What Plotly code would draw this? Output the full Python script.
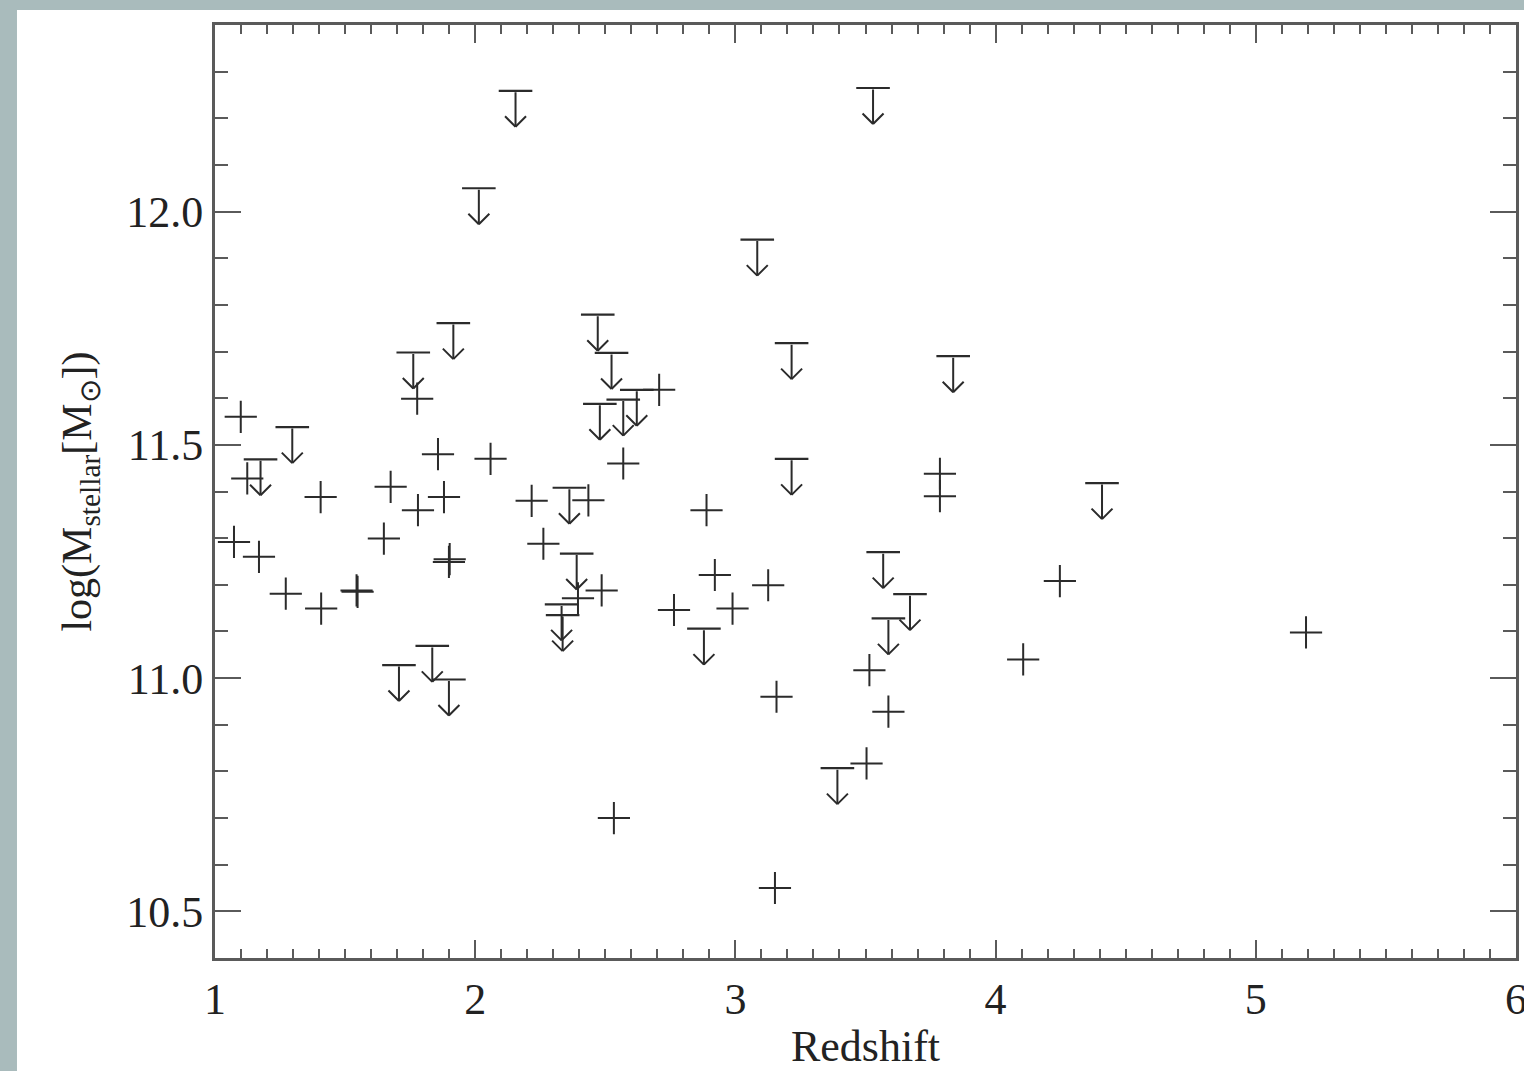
import plotly.graph_objects as go

# Detected sources: redshift and log stellar mass
det_z = [1.099, 1.124, 1.073, 1.169, 1.272, 1.408, 1.406, 1.544, 1.548, 1.649,
         1.675, 1.777, 1.780, 1.857, 1.880, 1.899, 1.902, 2.059, 2.217, 2.262,
         2.395, 2.435, 2.486, 2.533, 2.569, 2.707, 2.764, 2.889, 2.921, 2.989,
         3.126, 3.158, 3.152, 3.504, 3.515, 3.588, 3.786, 3.786, 4.106, 4.247,
         5.193]
det_mass = [11.560, 11.428, 11.292, 11.260, 11.181, 11.149, 11.388, 11.188, 11.185, 11.299,
            11.410, 11.599, 11.360, 11.480, 11.388, 11.249, 11.255, 11.470, 11.380, 11.288,
            11.171, 11.381, 11.188, 10.700, 11.460, 11.618, 11.146, 11.360, 11.221, 11.149,
            11.199, 10.960, 10.550, 10.817, 11.017, 10.928, 11.438, 11.390, 11.040, 11.208,
            11.098]

# Upper limits on stellar mass
lim_z = [2.155, 3.529, 2.014, 3.084, 3.216, 3.837, 3.216, 1.916, 1.762, 2.471,
         2.524, 2.479, 2.569, 2.621, 2.362, 2.390, 2.332, 2.336, 1.297, 1.175,
         1.707, 1.835, 1.899, 2.879, 3.568, 3.671, 3.588, 3.392, 4.409]
lim_mass = [12.259, 12.265, 12.050, 11.940, 11.718, 11.690, 11.470, 11.761, 11.698, 11.779,
            11.697, 11.588, 11.597, 11.618, 11.408, 11.267, 11.158, 11.135, 11.538, 11.469,
            11.028, 11.069, 10.997, 11.106, 11.270, 11.180, 11.128, 10.807, 11.418]

INK = "#2b2b2b"
AXIS = "#5a5a5a"
FONT = "Liberation Serif"

fig = go.Figure()

fig.add_trace(go.Scatter(
    x=det_z, y=det_mass, mode="markers", showlegend=False, hoverinfo="skip",
    marker=dict(symbol="cross-thin", size=23, color=INK,
                line=dict(width=2, color=INK)),
))

# horizontal bar marking each limit value
fig.add_trace(go.Scatter(
    x=lim_z, y=lim_mass, mode="markers", showlegend=False, hoverinfo="skip",
    marker=dict(symbol="line-ew", size=24, color=INK,
                line=dict(width=2.2, color=INK)),
))

# downward arrow under each limit bar: a 36 px shaft ending in an open "V"
SHAFT = 36
ARM = 12
for z, m in zip(lim_z, lim_mass):
    for ax, ay in ((0, -SHAFT), (-ARM, -ARM), (ARM, -ARM)):
        fig.add_annotation(
            x=z, y=m, xref="x", yref="y", text="", showarrow=True,
            arrowhead=0, arrowwidth=2, arrowcolor=INK,
            ax=ax, ay=ay, yshift=-SHAFT, standoff=0,
        )

# white page area over the tinted border
fig.add_shape(type="rect", xref="paper", yref="paper",
              x0=-0.1522, x1=2, y0=-1, y1=1.0161,
              fillcolor="white", line=dict(width=0), layer="below")

axis_common = dict(
    showline=True, linewidth=3, linecolor=AXIS, mirror="ticks",
    ticks="inside", tickwidth=2, tickcolor=AXIS,
    showgrid=False, zeroline=False, automargin=False,
    ticklabeloverflow="allow",
    tickfont=dict(family=FONT, size=44, color="#222"),
)

fig.update_xaxes(
    range=[1, 6], tick0=1, dtick=1, ticklen=18,
    minor=dict(dtick=0.1, ticks="inside", ticklen=9, tickwidth=2,
               tickcolor=AXIS, showgrid=False),
    title=dict(text="Redshift", font=dict(family=FONT, size=44, color="#222"),
               standoff=14),
    **axis_common,
)
fig.update_yaxes(
    range=[10.4, 12.4], tick0=10.5, dtick=0.5, tickformat=".1f", ticklen=26,
    minor=dict(dtick=0.1, ticks="inside", ticklen=13, tickwidth=2,
               tickcolor=AXIS, showgrid=False),
    title=dict(text="log(M<sub>stellar</sub>[M<sub>⊙</sub>])",
               font=dict(family=FONT, size=42, color="#222"), standoff=22),
    **axis_common,
)

fig.update_layout(
    width=1524, height=1071,
    margin=dict(l=215, r=8, t=25, b=113),
    paper_bgcolor="#a9bbbc", plot_bgcolor="white",
    font=dict(family=FONT, color="#222"),
)

fig.write_html("out.html")
